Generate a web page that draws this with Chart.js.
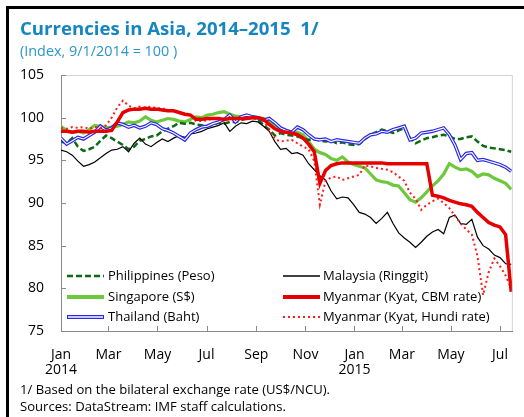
<!DOCTYPE html>
<html>
<head>
<meta charset="utf-8">
<script src="https://cdn.jsdelivr.net/npm/chart.js@4.4.1/dist/chart.umd.min.js"></script>
<style>
  html, body { margin: 0; padding: 0; background: #fff; }
  #page { position: relative; width: 524px; height: 417px; overflow: hidden; font-family: "Open Sans", sans-serif; }
  #frame { position: absolute; left: 6px; top: 6px; width: 600px; height: 600px; border-left: 3px solid #000; border-top: 3px solid #000; }
  #chart { position: absolute; left: 0; top: 0; }
  .txt { position: absolute; left: 20px; white-space: nowrap; }
  #title { top: 18.5px; font-size: 18.6px; line-height: 18.6px; font-weight: 700; color: #1586bf; }
  #subtitle { top: 43.5px; font-size: 14.4px; line-height: 14.4px; color: #2a96cc; }
  .note { font-size: 13.1px; line-height: 13px; color: #000; }
  #note1 { top: 383px; }
  #note2 { top: 400px; }
</style>
</head>
<body>
<div id="page">
  <canvas id="chart" width="524" height="417"></canvas>
  <div id="frame"></div>
  <div class="txt" id="title">Currencies in Asia, 2014–2015&nbsp; 1/</div>
  <div class="txt" id="subtitle">(Index, 9/1/2014 = 100 )</div>
  <div class="txt note" id="note1">1/ Based on the bilateral exchange rate (US$/NCU).</div>
  <div class="txt note" id="note2">Sources: DataStream: IMF staff calculations.</div>
</div>
<script>
// days since 1 Jan 2014 (weekly)
const days = [
    0, 7, 14, 21, 28, 35, 42, 49, 56, 63,
    70, 77, 84, 91, 98, 105, 112, 119, 126, 133,
    140, 147, 154, 161, 168, 175, 182, 189, 196, 203,
    210, 217, 224, 231, 238, 245, 252, 259, 266, 273,
    280, 287, 294, 301, 308, 315, 322, 329, 336, 343,
    350, 357, 364, 371, 378, 385, 392, 399, 406, 413,
    420, 427, 434, 441, 448, 455, 462, 469, 476, 483,
    490, 497, 504, 511, 518, 525, 532, 539, 546, 553,
    560,
];

const philippines = [
    97.2, 97.0, 97.6, 96.6, 96.1, 96.3, 96.6, 97.3, 97.9, 97.6,
    97.2, 96.8, 96.3, 96.6, 97.3, 97.5, 97.8, 97.9, 98.4, 98.7,
    99.0, 99.4, 99.3, 99.4, 99.2, 99.1, 99.0, 99.2, 99.4, 99.3,
    99.5, 99.5, 99.7, 99.9, 100.0, 99.8, 99.1, 98.6, 97.9, 98.2,
    98.0, 97.9, 97.8, 97.6, 97.4, 97.5, 97.3, 97.2, 97.3, 97.0,
    97.1, 96.9, 96.8, 96.9, 97.5, 98.0, 98.3, 98.6, 98.4, 98.2,
    98.5, 98.8, 97.6, 97.0, 97.3, 97.6, 97.7, 97.9, 98.0, 97.8,
    97.5, 97.5, 97.7, 97.8, 97.2, 96.7, 96.5, 96.4, 96.3, 96.2,
    96.0,
];

const malaysia = [
    96.2, 96.0, 95.6, 94.9, 94.3, 94.5, 94.8, 95.3, 95.8, 96.2,
    96.3, 96.6, 96.0, 97.0, 97.6, 96.9, 96.6, 97.1, 97.5, 97.2,
    97.6, 97.9, 97.7, 98.1, 98.2, 98.4, 98.7, 98.9, 99.1, 99.4,
    98.4, 99.0, 99.4, 99.3, 99.6, 99.5, 99.0, 98.4, 97.2, 96.3,
    96.4, 95.8, 95.9, 95.6, 94.6, 93.9, 93.2, 92.7, 91.4, 90.5,
    90.7, 90.6, 89.8, 88.9, 88.7, 88.3, 87.6, 88.2, 88.9, 87.6,
    86.5, 85.9, 85.4, 84.8, 85.4, 86.1, 86.6, 86.9, 86.4, 88.3,
    88.6, 87.6, 87.5, 88.1, 86.0, 85.0, 84.6, 83.9, 83.6, 82.9,
    82.8,
];

const singapore = [
    99.0, 98.5, 98.3, 98.4, 98.2, 98.6, 99.1, 99.0, 98.8, 98.9,
    99.0, 99.2, 99.5, 99.4, 99.6, 100.1, 99.7, 99.5, 99.7, 99.9,
    99.8, 99.6, 99.5, 99.8, 100.1, 100.0, 100.3, 100.4, 100.6, 100.7,
    100.4, 100.2, 100.1, 100.2, 100.1, 100.0, 99.9, 99.5, 99.2, 98.7,
    98.4, 98.2, 98.3, 98.0, 97.2, 96.3, 95.9, 95.7, 95.2, 95.0,
    95.4, 94.8, 94.5, 94.3, 94.1, 93.4, 92.7, 92.5, 92.4, 92.1,
    92.0, 91.2, 90.4, 90.1, 90.6, 91.3, 92.0, 92.6, 93.4, 94.6,
    94.2, 93.9, 94.0, 93.7, 93.1, 93.4, 93.3, 92.9, 92.6, 92.3,
    91.6,
];

const myanmarCbm = [
    98.4, 98.4, 98.3, 98.4, 98.4, 98.3, 98.4, 98.4, 98.4, 98.5,
    99.5, 100.6, 100.9, 101.0, 101.0, 101.1, 101.0, 101.0, 100.9, 100.8,
    100.8, 100.6, 100.4, 100.3, 99.8, 99.8, 99.9, 99.9, 99.9, 99.8,
    99.9, 99.9, 99.9, 99.9, 100.0, 100.0, 99.8, 99.2, 98.7, 98.4,
    98.3, 98.2, 98.0, 97.6, 96.9, 96.0, 92.3, 93.8, 94.4, 94.6,
    94.7, 94.7, 94.7, 94.7, 94.7, 94.7, 94.7, 94.7, 94.6, 94.6,
    94.6, 94.6, 94.6, 94.6, 94.6, 94.6, 90.9, 90.8, 90.6, 90.3,
    90.1, 89.9, 89.8, 89.6, 88.9, 88.3, 87.7, 87.4, 87.2, 86.3,
    79.6,
];

const thailand = [
    97.6, 96.9, 97.3, 97.7, 97.5, 97.9, 98.3, 99.0, 98.5, 98.8,
    99.4, 99.2, 98.9, 99.1, 98.8, 99.0, 99.4, 99.2, 98.7, 98.5,
    98.2, 97.8, 97.4, 98.2, 98.6, 98.9, 99.0, 99.3, 99.5, 99.8,
    100.3, 99.5, 100.1, 100.3, 100.1, 100.0, 99.7, 99.9, 99.4, 98.8,
    98.5, 98.3, 98.9, 98.6, 98.0, 97.5, 97.4, 97.5, 97.2, 97.4,
    97.3, 97.2, 97.1, 97.0, 97.6, 98.0, 98.1, 98.4, 98.3, 98.6,
    98.8, 99.0, 97.4, 97.6, 98.2, 98.3, 98.4, 98.6, 98.8, 98.0,
    96.8, 95.1, 95.8, 95.9, 95.0, 95.1, 94.9, 94.7, 94.5, 94.2,
    93.7,
];

const myanmarHundi = [
    98.8, 98.7, 98.9, 98.8, 98.9, 98.7, 98.9, 98.8, 99.1, 100.0,
    101.2, 102.0, 101.4, 101.1, 101.3, 101.2, 101.3, 101.1, 101.1, 100.9,
    100.8, 100.6, 100.5, 100.4, 99.6, 99.6, 99.7, 99.9, 99.8, 99.9,
    100.0, 99.8, 99.9, 100.0, 100.1, 100.0, 99.6, 98.6, 97.5, 97.2,
    97.3, 97.4, 97.0, 96.6, 96.3, 94.9, 89.8, 92.6, 93.0, 93.1,
    92.7, 92.9, 93.1, 93.3, 94.4, 94.3, 94.1, 94.0, 93.9, 93.6,
    93.1, 92.6, 91.2, 90.5, 89.2, 89.8, 90.2, 90.5, 90.0, 89.4,
    88.5, 87.6, 86.9, 86.3, 83.8, 79.2, 81.9, 83.5, 82.6, 81.5,
    80.0,
];

// 1st of Jan, Mar, May, Jul, Sep, Nov 2014 and Jan, Mar, May, Jul 2015
const monthTicks = [0, 59, 120, 181, 243, 304, 365, 424, 485, 546];
const monthLabels = [["Jan", "2014"], "Mar", "May", "Jul", "Sep", "Nov", ["Jan", "2015"], "Mar", "May", "Jul"];
const yTicks = [75, 80, 85, 90, 95, 100, 105];

const colors = {
    philippines: "#0b6a12",
    malaysia: "#000000",
    singapore: "#6cc93c",
    cbm: "#e60000",
    thailand: "#2a2ae6",
    hundi: "#ff1a1a",
};

const toPoints = (arr) => days.map((d, i) => ({ x: d, y: arr[i] }));

const line = (label, arr, color, width, dash) => ({
    label,
    data: toPoints(arr),
    borderColor: color,
    borderWidth: width,
    borderDash: dash || [],
    pointRadius: 0,
    tension: 0,
    fill: false,
});

Chart.defaults.font.family = "'Open Sans', sans-serif";
Chart.defaults.color = "#000";

const legendItems = [
    { label: "Philippines (Peso)", col: 0, row: 0, key: "philippines" },
    { label: "Singapore (S$)", col: 0, row: 1, key: "singapore" },
    { label: "Thailand (Baht)", col: 0, row: 2, key: "thailand" },
    { label: "Malaysia (Ringgit)", col: 1, row: 0, key: "malaysia" },
    { label: "Myanmar (Kyat, CBM rate)", col: 1, row: 1, key: "cbm" },
    { label: "Myanmar (Kyat, Hundi rate)", col: 1, row: 2, key: "hundi" },
];

const sampleStyle = {
    philippines: { width: 2.5, dash: [6, 3] },
    singapore: { width: 4 },
    thailand: { width: 4, inner: 1.3 },
    malaysia: { width: 1.3 },
    cbm: { width: 4 },
    hundi: { width: 2, dash: [2, 3] },
};

const decor = {
    id: "decor",
    afterDraw(chart) {
        const { ctx, chartArea: a, scales: { x, y } } = chart;
        ctx.save();
        ctx.lineWidth = 1;
        ctx.strokeStyle = "#d2d2d2";
        ctx.beginPath();
        ctx.moveTo(a.left, a.top + 0.5);
        ctx.lineTo(a.right - 0.5, a.top + 0.5);
        ctx.lineTo(a.right - 0.5, a.bottom);
        ctx.stroke();

        ctx.strokeStyle = "#8a8a8a";
        ctx.beginPath();
        yTicks.forEach((v) => {
            const py = Math.round(y.getPixelForValue(v)) + 0.5;
            ctx.moveTo(a.left, py);
            ctx.lineTo(a.left + 5, py);
        });
        monthTicks.forEach((v) => {
            const px = Math.round(x.getPixelForValue(v)) + 0.5;
            ctx.moveTo(px, a.bottom);
            ctx.lineTo(px, a.bottom - 5);
        });
        ctx.stroke();

        // legend, two columns inside the plot
        const colX = [[67, 104, 108], [283, 320, 323]];
        const rowY = [276, 297, 317];
        ctx.font = "13px 'Open Sans'";
        ctx.textBaseline = "middle";
        ctx.fillStyle = "#000";
        legendItems.forEach((it) => {
            const [x0, x1, tx] = colX[it.col];
            const ly = rowY[it.row];
            const st = sampleStyle[it.key];
            ctx.setLineDash(st.dash || []);
            ctx.lineWidth = st.width;
            ctx.strokeStyle = colors[it.key];
            ctx.beginPath();
            ctx.moveTo(x0, ly);
            ctx.lineTo(x1, ly);
            ctx.stroke();
            if (st.inner) {
                ctx.lineWidth = st.inner;
                ctx.strokeStyle = "#fff";
                ctx.beginPath();
                ctx.moveTo(x0 + 1, ly);
                ctx.lineTo(x1 - 1, ly);
                ctx.stroke();
            }
            ctx.setLineDash([]);
            ctx.fillText(it.label, tx, ly);
        });
        ctx.restore();
    },
};

new Chart(document.getElementById("chart"), {
    type: "line",
    data: {
        datasets: [
            line("Myanmar (Kyat, CBM rate)", myanmarCbm, colors.cbm, 3.5),
            line("Myanmar (Kyat, Hundi rate)", myanmarHundi, colors.hundi, 2, [2, 3]),
            line("Thailand inner", thailand, "#ffffff", 1.1),
            line("Thailand (Baht)", thailand, colors.thailand, 3.5),
            line("Malaysia (Ringgit)", malaysia, colors.malaysia, 1.2),
            line("Philippines (Peso)", philippines, colors.philippines, 2.5, [6, 3]),
            line("Singapore (S$)", singapore, colors.singapore, 3.2),
        ],
    },
    options: {
        responsive: false,
        animation: false,
        layout: { padding: { top: 75, right: 3, bottom: 26, left: 0 } },
        plugins: { legend: { display: false }, tooltip: { enabled: false } },
        scales: {
            x: {
                type: "linear",
                min: 0,
                max: 562,
                afterFit: (s) => { s.height = 60; },
                afterBuildTicks: (s) => { s.ticks = monthTicks.map((v) => ({ value: v })); },
                grid: { display: false, drawTicks: false },
                border: { display: true, color: "#8a8a8a", width: 1 },
                ticks: {
                    autoSkip: false,
                    maxRotation: 0,
                    padding: 16,
                    font: { size: 14, lineHeight: 1.1 },
                    callback: (v, i) => monthLabels[i],
                },
            },
            y: {
                min: 75,
                max: 105,
                afterFit: (s) => { s.width = 61; },
                grid: { display: false, drawTicks: false },
                border: { display: true, color: "#8a8a8a", width: 1 },
                ticks: { stepSize: 5, padding: 17, font: { size: 14 } },
            },
        },
    },
    plugins: [decor],
});
</script>
</body>
</html>
